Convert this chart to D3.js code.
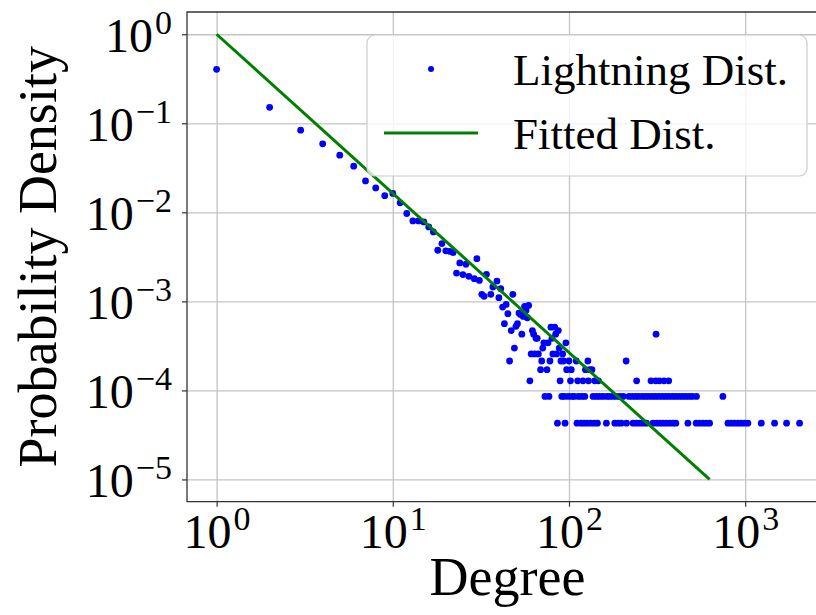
<!DOCTYPE html>
<html><head><meta charset="utf-8">
<script src="https://cdn.jsdelivr.net/npm/d3@7"></script>
<style>
body{margin:0;background:#fff}
svg{display:block}
text{font-family:"Liberation Serif","Times New Roman",serif}
</style>
</head><body>
<svg id="chart" width="816" height="615"></svg>
<script>
// ---------------- data ----------------
const degree = [
  1,2,3,4,5,6,7,8,9,10,11,12,13,14,15,16,17,18,19,20,21,22,23,24,25,26,27,29,30,31,32,33,34,36,37,39,40,41,42,43,44,45,46,47,48,49,50,51,52,53,54,55,56,57,58,59,60,
  61,62,63,64,65,66,67,69,70,71,72,73,75,76,77,78,79,80,81,83,84,85,86,87,88,89,90,91,92,93,94,95,96,97,99,100,102,103,104,107,110,111,112,113,117,118,120,122,123,124,127,128,129,131,133,135,137,139,140,143,145,147,149,
  156,163,164,170,178,182,186,190,194,198,203,211,212,219,229,231,239,241,242,249,252,261,263,272,275,284,292,297,300,310,311,312,315,324,326,328,339,341,346,354,356,368,369,372,386,389,403,404,421,440,459,473,479,501,527,529,551,576,601,628,747,798,834,871,909,950,992,1036,1234,1468,1717,2036
];
const density = [
  0.404,0.151,0.0838,0.0588,0.0439,0.0330,0.0225,0.0188,0.0154,0.0163,0.0128,0.0097,0.0080,0.0080,0.0078,0.00685,0.00602,0.00375,0.00446,0.00370,0.00365,0.00352,0.00208,0.00270,0.00200,0.00261,0.00191,0.00180,0.00302,0.00172,0.00120,0.00114,0.00201,0.00120,0.00145,0.00169,0.00110,0.00139,0.000863,0.000561,0.000925,0.000727,0.000214,0.000470,0.00120,0.000299,0.000524,0.000561,0.000738,0.000714,0.000428,0.000678,0.000879,0.000792,0.000655,0.000900,0.000128,
  2.57e-4,4.70e-4,4.28e-4,2.57e-4,3.85e-4,3.85e-4,2.57e-4,1.71e-4,2.14e-4,2.99e-4,3.42e-4,8.55e-5,1.71e-4,3.42e-4,8.55e-5,2.14e-4,5.13e-4,3.85e-4,2.57e-4,5.13e-4,4.28e-4,2.57e-4,4.28e-5,4.70e-4,2.99e-4,1.28e-4,2.14e-4,8.55e-5,2.57e-4,2.14e-4,8.55e-5,4.28e-5,3.42e-4,1.71e-4,8.55e-5,2.14e-4,1.28e-4,1.71e-4,8.55e-5,8.55e-5,2.14e-4,4.28e-5,1.28e-4,8.55e-5,4.28e-5,8.55e-5,1.28e-4,4.28e-5,8.55e-5,1.71e-4,4.28e-5,2.14e-4,1.28e-4,1.71e-4,4.28e-5,1.71e-4,8.55e-5,4.28e-5,1.28e-4,8.55e-5,4.28e-5,1.28e-4,8.55e-5,
  8.55e-5,4.28e-5,8.55e-5,8.55e-5,8.55e-5,4.28e-5,8.55e-5,4.28e-5,8.55e-5,4.28e-5,8.55e-5,2.14e-4,4.28e-5,8.55e-5,8.55e-5,4.28e-5,8.55e-5,4.28e-5,1.28e-4,8.55e-5,4.28e-5,8.55e-5,4.28e-5,8.55e-5,4.28e-5,8.55e-5,1.28e-4,8.55e-5,4.28e-5,8.55e-5,1.28e-4,4.28e-4,4.28e-5,8.55e-5,1.28e-4,4.28e-5,8.55e-5,4.28e-5,1.28e-4,8.55e-5,4.28e-5,1.28e-4,8.55e-5,4.28e-5,8.55e-5,4.28e-5,8.55e-5,4.28e-5,8.55e-5,8.55e-5,8.55e-5,4.28e-5,8.55e-5,8.55e-5,4.28e-5,8.55e-5,4.28e-5,4.28e-5,4.28e-5,4.28e-5,8.55e-5,4.28e-5,4.28e-5,4.28e-5,4.28e-5,4.28e-5,4.28e-5,4.28e-5,4.28e-5,4.28e-5,4.28e-5,4.28e-5
];
const fitDegree = [1, 628];
const fitDensity = [1, 1.0e-5];
const xTickValues = [1, 10, 100, 1000];
const xTickExponents = ["0", "1", "2", "3"];
const yTickValues = [1, 1e-1, 1e-2, 1e-3, 1e-4, 1e-5];
const yTickExponents = ["0", "\u22121", "\u22122", "\u22123", "\u22124", "\u22125"];
const seriesNames = ["Lightning Dist.", "Fitted Dist."];
const xTitle = "Degree";
const yTitle = "Probability Density";

// ---------------- layout ----------------
const pL = 187, pT = 12, pR = 828, pB = 501.7;
const svg = d3.select("#chart");
const x = d3.scaleLog().domain([Math.pow(10, -0.168), Math.pow(10, 3.47)]).range([pL, pR]);
const y = d3.scaleLog().domain([Math.pow(10, -5.25), Math.pow(10, 0.25)]).range([pB, pT]);

svg.append("defs").append("clipPath").attr("id", "clip")
  .append("rect").attr("x", pL).attr("y", pT).attr("width", pR - pL).attr("height", pB - pT);

// grid
const grid = svg.append("g");
grid.append("g").attr("transform", `translate(0,${pB})`)
  .call(d3.axisBottom(x).tickValues(xTickValues).tickSize(-(pB - pT)).tickFormat(""))
  .call(g => g.select(".domain").remove())
  .call(g => g.selectAll("line").attr("stroke", "#c4c4c4").attr("stroke-width", 1.3));
grid.append("g").attr("transform", `translate(${pL},0)`)
  .call(d3.axisLeft(y).tickValues(yTickValues).tickSize(-(pR - pL)).tickFormat(""))
  .call(g => g.select(".domain").remove())
  .call(g => g.selectAll("line").attr("stroke", "#c4c4c4").attr("stroke-width", 1.3));

// data
const plot = svg.append("g").attr("clip-path", "url(#clip)");
plot.selectAll("circle").data(degree).enter().append("circle")
  .attr("cx", d => x(d)).attr("cy", (d, i) => y(density[i])).attr("r", 3.4).attr("fill", "#0000ff");
plot.append("path")
  .attr("d", d3.line().x(d => x(d[0])).y(d => y(d[1]))(fitDegree.map((d, i) => [d, fitDensity[i]])))
  .attr("fill", "none").attr("stroke", "#008000").attr("stroke-width", 3);

// axes
const ax = svg.append("g").attr("transform", `translate(0,${pB})`)
  .call(d3.axisBottom(x).tickValues(xTickValues).tickSize(5).tickFormat(""));
ax.select(".domain").remove();
ax.selectAll(".tick line").attr("stroke", "#333").attr("stroke-width", 1.2);
ax.selectAll(".tick").each(function (d, i) {
  const t = d3.select(this).append("text").attr("y", 46).attr("text-anchor", "middle")
    .attr("fill", "#000").attr("font-family", "Liberation Serif, serif").attr("font-size", 48);
  t.append("tspan").text("10");
  t.append("tspan").attr("dy", -18).attr("dx", 2).attr("font-size", 34).text(xTickExponents[i]);
});

const ay = svg.append("g").attr("transform", `translate(${pL},0)`)
  .call(d3.axisLeft(y).tickValues(yTickValues).tickSize(5).tickFormat(""));
ay.select(".domain").remove();
ay.selectAll(".tick line").attr("stroke", "#333").attr("stroke-width", 1.2);
ay.selectAll(".tick").each(function (d, i) {
  const t = d3.select(this).append("text").attr("x", -15).attr("y", 17.5).attr("text-anchor", "end")
    .attr("fill", "#000").attr("font-family", "Liberation Serif, serif").attr("font-size", 48);
  t.append("tspan").text("10");
  t.append("tspan").attr("dy", -18).attr("dx", 2).attr("font-size", 34).text(yTickExponents[i]);
});

// frame (spines)
svg.append("path")
  .attr("d", `M${pR},${pT}H${pL}V${pB}H${pR}`)
  .attr("fill", "none").attr("stroke", "#333").attr("stroke-width", 1.3);

// axis titles
svg.append("text").attr("x", (pL + pR) / 2).attr("y", 595).attr("text-anchor", "middle")
  .attr("font-size", 54).attr("fill", "#000").text(xTitle);
svg.append("text").attr("transform", `translate(56,${(pT + pB) / 2}) rotate(-90)`)
  .attr("text-anchor", "middle").attr("font-size", 54).attr("fill", "#000").text(yTitle);

// legend
const lg = svg.append("g");
lg.append("rect").attr("x", 367).attr("y", 35).attr("width", 440).attr("height", 141).attr("rx", 8)
  .attr("fill", "#fff").attr("fill-opacity", 0.8).attr("stroke", "#cccccc").attr("stroke-width", 1.2);
lg.append("circle").attr("cx", 431).attr("cy", 69).attr("r", 3).attr("fill", "#0000ff");
lg.append("line").attr("x1", 384).attr("x2", 478).attr("y1", 133).attr("y2", 133)
  .attr("stroke", "#008000").attr("stroke-width", 3);
lg.selectAll("text.lab").data(seriesNames).enter().append("text").attr("class", "lab")
  .attr("x", 513).attr("y", (d, i) => 85 + i * 64).attr("font-size", 45).attr("fill", "#000").text(d => d);
</script>
</body></html>
